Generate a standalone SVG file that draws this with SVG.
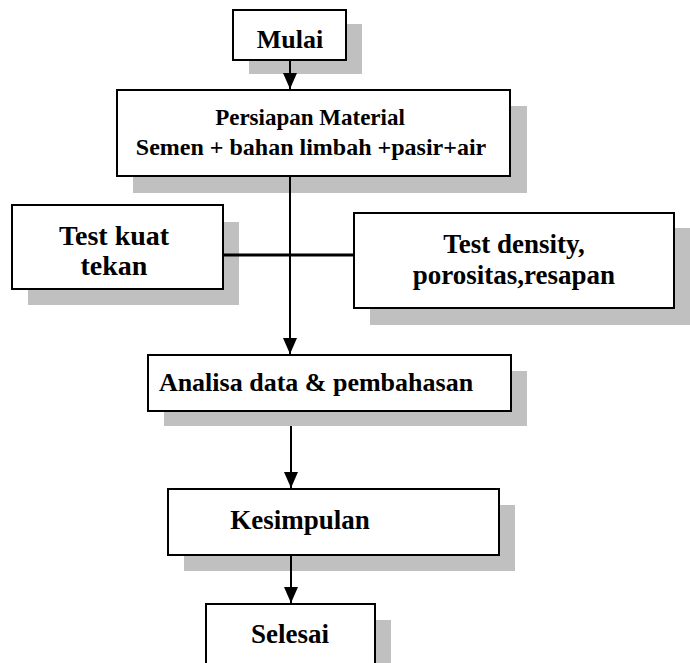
<svg xmlns="http://www.w3.org/2000/svg" width="690" height="663" viewBox="0 0 690 663">
<style>
.box{fill:#fff;stroke:#000;stroke-width:2}
.sh{fill:#c0c0c0}
.t{font-family:"Liberation Serif","Times New Roman",serif;font-weight:bold;fill:#000;text-anchor:middle}
.c{stroke:#000;stroke-width:2;fill:none}
</style>
<defs>
<marker id="ah" markerUnits="userSpaceOnUse" markerWidth="16" markerHeight="14" refX="16" refY="7" orient="auto" viewBox="0 0 16 14">
<path d="M0,0 L16,7 L0,14 Z" fill="#000"/>
</marker>
</defs>
<rect width="690" height="663" fill="#fff"/>
<g id="mulai">
<rect class="sh" x="249" y="24" width="113" height="50"/>
<rect class="box" x="233" y="10" width="113" height="50"/>
<text class="t" x="290" y="48" font-size="26">Mulai</text>
</g>
<g id="persiapan">
<rect class="sh" x="133" y="106" width="394" height="87"/>
<rect class="box" x="117" y="90" width="393" height="86"/>
<text class="t" x="310" y="125" font-size="23">Persiapan Material</text>
<text class="t" x="311" y="155" font-size="24">Semen + bahan limbah +pasir+air</text>
</g>
<g id="kuat">
<rect class="sh" x="28" y="222" width="211" height="83"/>
<rect class="box" x="12" y="205" width="211" height="84"/>
<text class="t" x="114" y="245" font-size="28">Test kuat</text>
<text class="t" x="114" y="275" font-size="28">tekan</text>
</g>
<g id="density">
<rect class="sh" x="370" y="228" width="320" height="97"/>
<rect class="box" x="354" y="213" width="320" height="95"/>
<text class="t" x="514" y="253" font-size="27">Test density,</text>
<text class="t" x="514" y="284" font-size="27">porositas,resapan</text>
</g>
<g id="analisa">
<rect class="sh" x="164" y="371" width="363" height="55"/>
<rect class="box" x="148" y="355" width="363" height="56"/>
<text class="t" x="316" y="391" font-size="26">Analisa data &amp; pembahasan</text>
</g>
<g id="kesimpulan">
<rect class="sh" x="184" y="505" width="331" height="66"/>
<rect class="box" x="168" y="489" width="331" height="66"/>
<text class="t" x="300" y="529" font-size="27">Kesimpulan</text>
</g>
<g id="selesai">
<rect class="sh" x="222" y="620" width="169" height="50"/>
<rect class="box" x="206" y="604" width="169" height="70"/>
<text class="t" x="290" y="643" font-size="27">Selesai</text>
</g>
<g id="connectors">
<line class="c" x1="290" y1="60" x2="290" y2="89" marker-end="url(#ah)"/>
<line class="c" x1="290" y1="176" x2="290" y2="354" marker-end="url(#ah)"/>
<line x1="223" y1="255" x2="354" y2="255" stroke="#000" stroke-width="3"/>
<line class="c" x1="291" y1="426" x2="291" y2="488" marker-end="url(#ah)"/>
<line class="c" x1="291" y1="555" x2="291" y2="603" marker-end="url(#ah)"/>
</g>
</svg>
